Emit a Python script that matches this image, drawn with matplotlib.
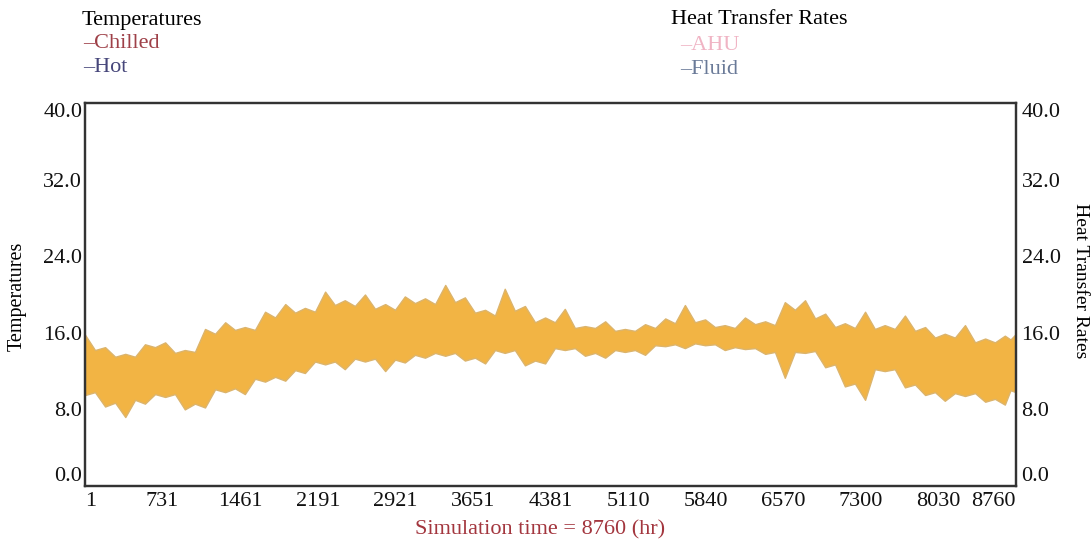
import numpy as np
import matplotlib.pyplot as plt

# hourly band of the supply temperature, read as lower / upper envelope
hours = [1, 95, 190, 285, 380, 472, 565, 660, 755, 848, 940, 1035, 1130, 1225,
         1320, 1412, 1505, 1600, 1695, 1790, 1885, 1978, 2070, 2165, 2260, 2352,
         2445, 2540, 2635, 2730, 2825, 2918, 3010, 3105, 3200, 3295, 3390, 3482,
         3575, 3670, 3765, 3858, 3950, 4045, 4140, 4235, 4330, 4422, 4515, 4610,
         4705, 4800, 4895, 4988, 5080, 5175, 5270, 5365, 5460, 5552, 5645, 5740,
         5835, 5928, 6020, 6115, 6210, 6305, 6400, 6492, 6585, 6680, 6775, 6870,
         6965, 7058, 7150, 7245, 7340, 7432, 7525, 7620, 7715, 7810, 7905, 7998,
         8090, 8185, 8280, 8375, 8470, 8562, 8655, 8708, 8760]
temp_upper = [15.8, 14.2, 14.5, 13.5, 13.8, 13.5, 14.8, 14.5, 15.0, 13.9, 14.2, 14.0,
              16.4, 15.9, 17.1, 16.3, 16.6, 16.3, 18.2, 17.6, 19.0, 18.1, 18.6, 18.2,
              20.3, 18.9, 19.4, 18.8, 20.0, 18.5, 19.0, 18.4, 19.8, 19.1, 19.6, 19.0,
              21.0, 19.2, 19.7, 18.1, 18.4, 17.8, 20.6, 18.3, 18.8, 17.1, 17.6, 17.1,
              18.5, 16.5, 16.7, 16.5, 17.2, 16.2, 16.4, 16.2, 16.9, 16.5, 17.5, 17.0,
              18.9, 17.1, 17.4, 16.6, 16.8, 16.5, 17.6, 16.9, 17.2, 16.8, 19.2, 18.4,
              19.4, 17.5, 18.0, 16.6, 17.0, 16.5, 18.2, 16.4, 16.8, 16.4, 17.8, 16.2,
              16.6, 15.5, 15.9, 15.5, 16.8, 15.0, 15.4, 15.0, 15.7, 15.3, 15.9]
temp_lower = [9.5, 9.8, 8.3, 8.7, 7.2, 9.0, 8.6, 9.6, 9.3, 9.6, 8.0, 8.6,
              8.2, 10.1, 9.8, 10.2, 9.6, 11.2, 10.9, 11.4, 11.0, 12.1, 11.8, 13.0,
              12.7, 13.0, 12.2, 13.3, 13.0, 13.3, 12.0, 13.2, 12.9, 13.7, 13.4, 13.9,
              13.6, 13.9, 13.1, 13.4, 12.8, 14.2, 13.9, 14.2, 12.6, 13.1, 12.8, 14.4,
              14.2, 14.4, 13.6, 13.9, 13.4, 14.2, 14.0, 14.2, 13.7, 14.7, 14.6, 14.8,
              14.4, 14.9, 14.7, 14.8, 14.2, 14.5, 14.3, 14.4, 13.8, 14.0, 11.3, 14.0,
              13.9, 14.1, 12.4, 12.7, 10.4, 10.7, 9.0, 12.2, 12.0, 12.2, 10.3, 10.6,
              9.5, 9.8, 8.9, 9.7, 9.4, 9.7, 8.8, 9.1, 8.5, 10.0, 9.8]

xticks = [1, 731, 1461, 2191, 2921, 3651, 4381, 5110, 5840, 6570, 7300, 8030, 8760]
yticks = [0.0, 8.0, 16.0, 24.0, 32.0, 40.0]

plt.rcParams['font.family'] = ['Liberation Serif', 'DejaVu Serif']
fs = 16

fig = plt.figure(figsize=(10.92, 5.42), dpi=100)
ax = fig.add_axes([85/1092, 1 - 486/542, 931/1092, 383/542])

ax.fill_between(hours, temp_lower, temp_upper, color='#f2b444', lw=1.0,
                edgecolor='#dcb46c')

ax.set_xlim(1, 8760)
ax.set_ylim(0, 40)
ax.set_xticks(xticks)
ax.set_xticklabels([str(t) for t in xticks], fontsize=fs)
ax.set_yticks(yticks)
ax.set_yticklabels(['%.1f' % v for v in yticks], fontsize=fs)
ax.tick_params(axis='both', length=0, colors='#111111')
ax.tick_params(axis='x', pad=4)
ax.tick_params(axis='y', pad=2)
xl = ax.get_xticklabels()
xl[0].set_ha('left')
xl[-1].set_ha('right')
yl = ax.get_yticklabels()
yl[0].set_va('bottom')
yl[-1].set_va('top')

# right axis with the same scale
ax2 = ax.twinx()
ax2.set_ylim(0, 40)
ax2.set_yticks(yticks)
ax2.set_yticklabels(['%.1f' % v for v in yticks], fontsize=fs)
ax2.tick_params(axis='y', length=0, pad=4, colors='#111111')
yr = ax2.get_yticklabels()
yr[0].set_va('bottom')
yr[-1].set_va('top')

for a in (ax, ax2):
    for s in a.spines.values():
        s.set_color('#333333')
        s.set_linewidth(1.6)

fig.text(17/1092, 1 - 296/542, 'Temperatures', rotation=90, fontsize=14.5,
         ha='center', va='center')
fig.text(1080/1092, 1 - 281/542, 'Heat Transfer Rates', rotation=270, fontsize=14,
         ha='center', va='center')
fig.text(540/1092, 1 - 530/542, 'Simulation time = 8760 (hr)', fontsize=fs,
         color='#a3363e', ha='center', va='center')

# legend blocks at the top
fig.text(82/1092, 1 - 20/542, 'Temperatures', fontsize=fs, va='center')
fig.text(83/1092, 1 - 44/542, '\u2013Chilled', fontsize=fs, va='center', color='#9e4048')
fig.text(83/1092, 1 - 68/542, '\u2013Hot', fontsize=fs, va='center', color='#46467a')
fig.text(671/1092, 1 - 20/542, 'Heat Transfer Rates', fontsize=fs, va='center')
fig.text(680/1092, 1 - 45/542, '\u2013AHU', fontsize=fs, va='center', color='#f0b4c4')
fig.text(680/1092, 1 - 70/542, '\u2013Fluid', fontsize=fs, va='center', color='#6a7a98')

fig.savefig('out.png', dpi=100)
